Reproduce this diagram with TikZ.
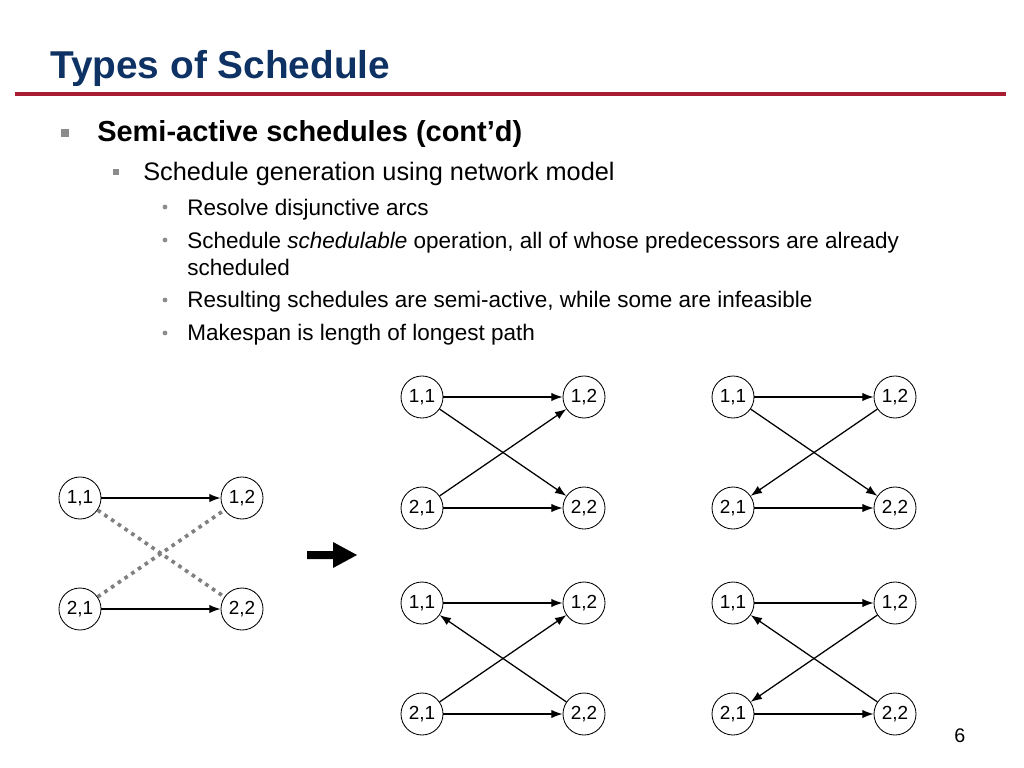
\documentclass[tikz,border=0pt]{standalone}
\usepackage{fontspec}
\setmainfont{Liberation Sans}
\usetikzlibrary{arrows.meta}
\definecolor{titleblue}{RGB}{14,50,100}
\definecolor{rulered}{RGB}{170,28,50}
\definecolor{bulletgray}{RGB}{140,140,140}

\begin{document}
\begin{tikzpicture}[
    x=0.025cm, y=-0.025cm,
    job/.style={draw, circle, line width=0.6pt, minimum size=1.05cm, inner sep=0pt, font=\fontsize{13.5}{13.5}\selectfont},
    arc/.style={-{Latex[length=8pt,width=6pt]}, line width=0.9pt},
    disj/.style={line width=2.6pt, gray, dash pattern=on 2.6pt off 3.2pt},
    line/.style={anchor=base west, inner sep=0pt, font=\fontsize{#1}{#1}\selectfont},
    sqmark/.style={fill=bulletgray, minimum size=#1, inner sep=0pt}
]
    \useasboundingbox (0,0) rectangle (1024,768);

    % Title and rule
    \node[line=27, font=\fontsize{27.6}{27.6}\selectfont\bfseries, text=titleblue] (title) at (50,79) {Types of Schedule};
    \draw[rulered, line width=2.2pt] (15,94) -- (1006,94);

    % Bullet marks
    \node[sqmark=0.2cm] (m1) at (65,133) {};
    \node[sqmark=0.17cm] (m2) at (116,172) {};
    \foreach \y [count=\i] in {207,240,300,333}
        \node[fill=bulletgray, circle, minimum size=0.12cm, inner sep=0pt] (d\i) at (165,\y) {};

    % Bullet texts
    \node[line=20.6, font=\fontsize{20.6}{20.6}\selectfont\bfseries] (b1) at (97,142) {Semi-active schedules (cont’d)};
    \node[line=18] (b2) at (143,180) {Schedule generation using network model};
    \node[line=16] (b3) at (187,215) {Resolve disjunctive arcs};
    \node[line=16] (b4) at (187,248) {Schedule \textit{schedulable} operation, all of whose predecessors are already};
    \node[line=16] (b5) at (187,275) {scheduled};
    \node[line=16] (b6) at (187,307) {Resulting schedules are semi-active, while some are infeasible};
    \node[line=16] (b7) at (187,340) {Makespan is length of longest path};

    % Networks: L = disjunctive, A-D = resolved
    \foreach \g/\x/\y in {L/80/498, A/422/397, B/733/397, C/422/603, D/733/603} {
        \node[job] (\g11) at (\x,\y) {1,1};
        \node[job] (\g12) at ({\x+162},\y) {1,2};
        \node[job] (\g21) at (\x,{\y+111}) {2,1};
        \node[job] (\g22) at ({\x+162},{\y+111}) {2,2};
        \draw[arc] (\g11) -- (\g12);
        \draw[arc] (\g21) -- (\g22);
    }

    % Disjunctive arcs
    \draw[disj] (L11) -- (L22);
    \draw[disj] (L21) -- (L12);

    % Resolved arcs
    \draw[arc] (A11) -- (A22);
    \draw[arc] (A21) -- (A12);
    \draw[arc] (B11) -- (B22);
    \draw[arc] (B12) -- (B21);
    \draw[arc] (C22) -- (C11);
    \draw[arc] (C21) -- (C12);
    \draw[arc] (D22) -- (D11);
    \draw[arc] (D12) -- (D21);

    % Block arrow
    \fill (307,551) -- (333,551) -- (333,542) -- (357,555) -- (333,568) -- (333,559) -- (307,559) -- cycle;

    % Page number
    \node[line=14] (page) at (954,742) {6};
\end{tikzpicture}
\end{document}
